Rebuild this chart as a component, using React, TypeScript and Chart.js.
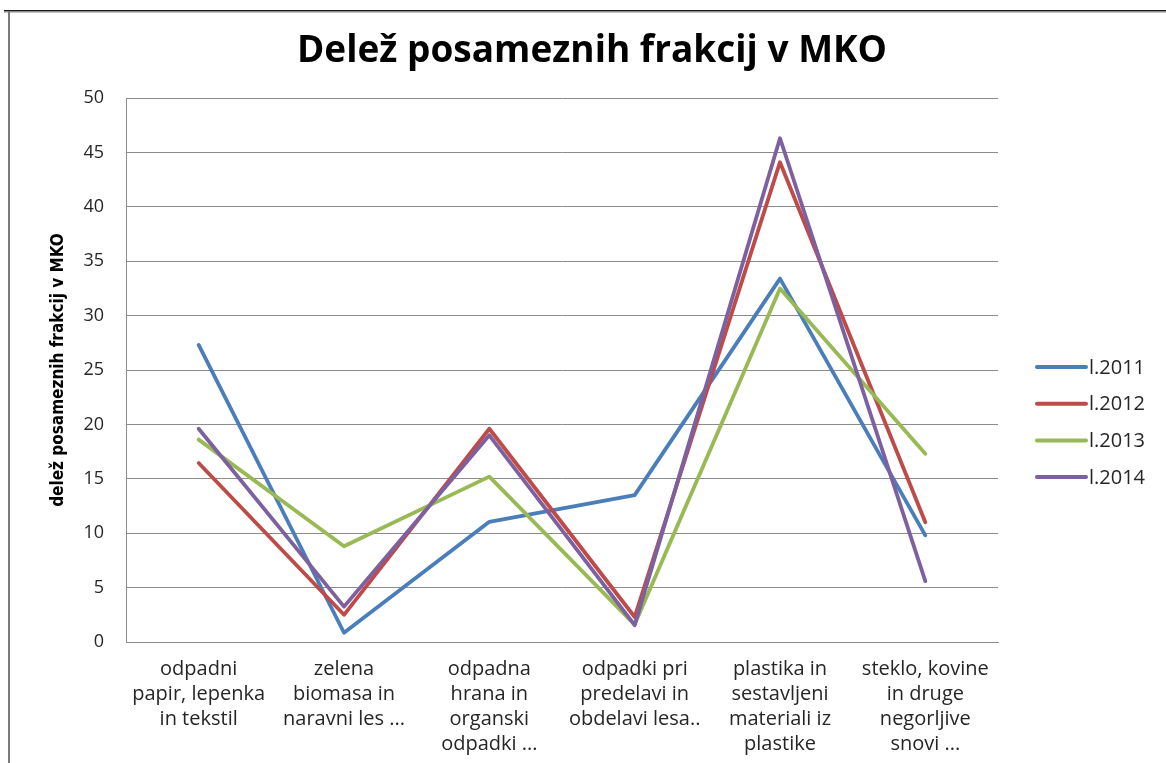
import React, { useEffect, useRef } from "react";
import { Chart, registerables } from "chart.js";

Chart.register(...registerables);

const TITLE = "Delež posameznih frakcij v MKO";
const Y_TITLE = "delež posameznih frakcij v MKO";

const categories: string[][] = [
  ["odpadni", "papir, lepenka", "in tekstil"],
  ["zelena", "biomasa in", "naravni les ..."],
  ["odpadna", "hrana in", "organski", "odpadki ..."],
  ["odpadki pri", "predelavi in", "obdelavi lesa.."],
  ["plastika in", "sestavljeni", "materiali iz", "plastike"],
  ["steklo, kovine", "in druge", "negorljive", "snovi ..."],
];

const seriesNames = ["l.2011", "l.2012", "l.2013", "l.2014"];
const values2011 = [27.3, 0.85, 11.05, 13.5, 33.4, 9.8];
const values2012 = [16.45, 2.5, 19.6, 2.3, 44.1, 11.0];
const values2013 = [18.6, 8.8, 15.2, 1.6, 32.5, 17.3];
const values2014 = [19.6, 3.25, 19.0, 1.55, 46.3, 5.6];
const seriesColors = ["#4A7EBB", "#BE4B48", "#98B954", "#7D60A0"];

const yTicks = [0, 5, 10, 15, 20, 25, 30, 35, 40, 45, 50];

const FONT = "'Open Sans', 'Noto Sans', sans-serif";

const framePlugin = {
  id: "frame",
  beforeDraw(chart: any) {
    const ctx = chart.ctx;
    ctx.save();
    ctx.fillStyle = "#ffffff";
    ctx.fillRect(0, 0, chart.width, chart.height);
    ctx.fillStyle = "#1a1a1a";
    ctx.fillRect(4, 10, chart.width - 4, 1.5);
    ctx.fillStyle = "#8a8a8a";
    ctx.fillRect(4, 11.5, chart.width - 4, 1);
    ctx.fillStyle = "#7a7a7a";
    ctx.fillRect(8, 11, 2, chart.height - 11);
    ctx.restore();
  },
};

const legendPlugin = {
  id: "sideLegend",
  afterDraw(chart: any) {
    const ctx = chart.ctx;
    ctx.save();
    chart.data.datasets.forEach((ds: any, i: number) => {
      const y = 367 + i * 36.7;
      ctx.strokeStyle = ds.borderColor;
      ctx.lineWidth = 4;
      ctx.lineCap = "round";
      ctx.beginPath();
      ctx.moveTo(1037, y);
      ctx.lineTo(1086, y);
      ctx.stroke();
      ctx.fillStyle = "#262626";
      ctx.font = `20px ${FONT}`;
      ctx.textBaseline = "middle";
      ctx.textAlign = "left";
      ctx.fillText(ds.label, 1089, y + 1);
    });
    ctx.restore();
  },
};

export default function App() {
  const ref = useRef<HTMLCanvasElement | null>(null);

  useEffect(() => {
    if (!ref.current) return;
    const all = [values2011, values2012, values2013, values2014];
    const chart = new Chart(ref.current, {
      type: "line",
      data: {
        labels: categories,
        datasets: all.map((vals, i) => ({
          label: seriesNames[i],
          data: vals,
          borderColor: seriesColors[i],
          backgroundColor: seriesColors[i],
          borderWidth: 3.8,
          pointRadius: 0,
          tension: 0,
          borderJoinStyle: "round" as const,
          borderCapStyle: "round" as const,
          order: 4 - i,
        })),
      },
      options: {
        animation: false,
        responsive: false,
        maintainAspectRatio: false,
        layout: { padding: { left: 18, right: 0, top: 0, bottom: 0 } },
        plugins: {
          legend: { display: false },
          tooltip: { enabled: false },
          title: {
            display: true,
            text: TITLE,
            color: "#000000",
            font: { family: FONT, size: 37, weight: "bold", lineHeight: 1.2 },
            padding: { top: 29, bottom: 24.6 },
          },
        },
        scales: {
          x: {
            type: "category",
            offset: true,
            grid: { display: false, drawTicks: false },
            border: { display: true, color: "#8c8c8c", width: 1 },
            ticks: {
              color: "#262626",
              font: { family: FONT, size: 20, lineHeight: 1.25 },
              padding: 15,
              maxRotation: 0,
              minRotation: 0,
              autoSkip: false,
            },
            afterFit: (s: any) => {
              s.height = 121;
            },
          },
          y: {
            type: "linear",
            min: 0,
            max: 50,
            afterBuildTicks: (s: any) => {
              s.ticks = yTicks.map((v) => ({ value: v }));
            },
            grid: { color: "#8c8c8c", lineWidth: 1, drawTicks: false },
            border: { display: true, color: "#8c8c8c", width: 1 },
            ticks: {
              color: "#262626",
              font: { family: FONT, size: 18 },
              padding: 22,
            },
            title: {
              display: true,
              text: Y_TITLE,
              color: "#000000",
              font: { family: "'DejaVu Sans Condensed', 'DejaVu Sans', sans-serif", size: 17, weight: "bold", lineHeight: 1.2 },
              padding: { top: 30, bottom: 0 },
            },
            afterFit: (s: any) => {
              s.width = 108;
            },
          },
          yRight: {
            type: "linear",
            position: "right",
            display: true,
            grid: { display: false, drawTicks: false },
            border: { display: false },
            ticks: { display: false },
            afterFit: (s: any) => {
              s.width = 168;
            },
          },
        },
      },
      plugins: [framePlugin, legendPlugin],
    });
    return () => chart.destroy();
  }, []);

  return (
    <div style={{ position: "fixed", left: 0, top: 0, width: 1166, height: 763, background: "#fff" }}>
      <canvas ref={ref} width={1166} height={763} style={{ width: 1166, height: 763, display: "block" }} />
    </div>
  );
}
